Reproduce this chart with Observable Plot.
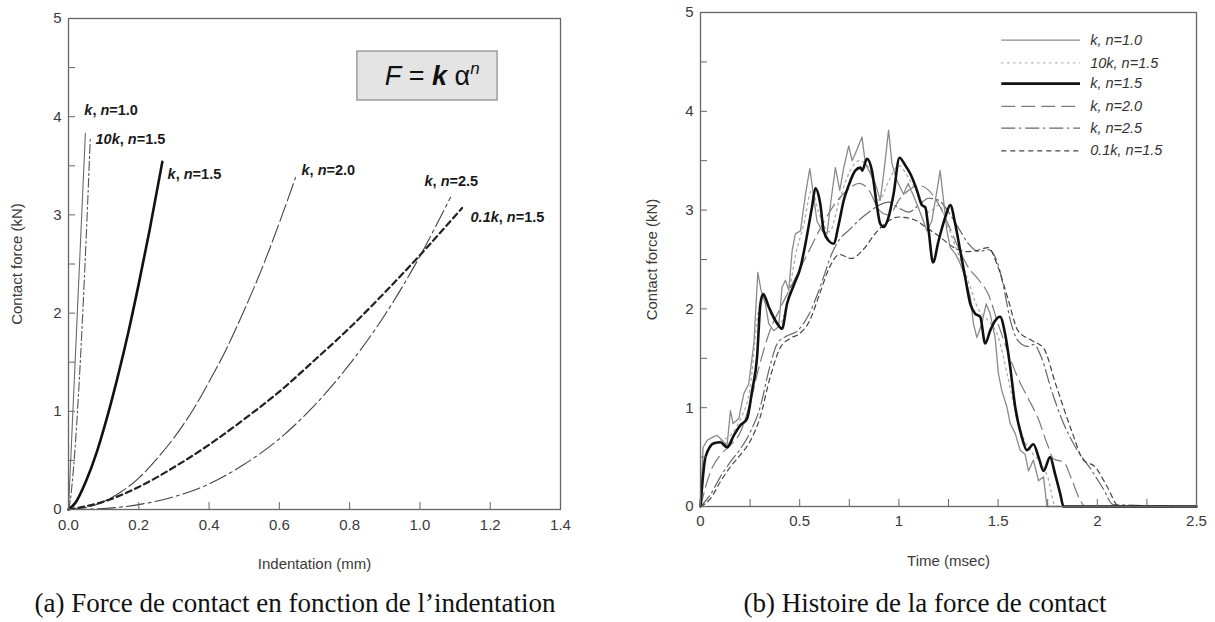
<!DOCTYPE html>
<html>
<head>
<meta charset="utf-8">
<script src="https://cdn.jsdelivr.net/npm/d3@7"></script>
<script src="https://cdn.jsdelivr.net/npm/@observablehq/plot@0.6"></script>
<style>
  html, body { margin: 0; padding: 0; background: #fff; }
  body { width: 1215px; height: 622px; position: relative; overflow: hidden; font-family: "Liberation Sans", Arial, sans-serif; }
  #left { position: absolute; left: 0; top: 0; }
  #right { position: absolute; left: 600px; top: 0; }
  .cap { position: absolute; top: 588px; font-family: "Liberation Serif", "Times New Roman", serif; font-size: 27px; line-height: 31px; color: #111; white-space: nowrap; transform: translateX(-50%); }
</style>
</head>
<body>
<div id="left"></div>
<div id="right"></div>
<div class="cap" style="left:295px">(a) Force de contact en fonction de l’indentation</div>
<div class="cap" style="left:925px">(b) Histoire de la force de contact</div>
<script>
// ---------------- Data: (a) contact force vs indentation ----------------
const seriesNames = ["k, n=1.0", "10k, n=1.5", "k, n=1.5", "k, n=2.0", "k, n=2.5", "0.1k, n=1.5"];

const ind_k_n10 = [0, 0.048];
const F_k_n10   = [0, 3.83];
const ind_10k_n15 = [0, 0.005, 0.01, 0.02, 0.03, 0.04, 0.05, 0.062];
const F_10k_n15   = [0, 0.09, 0.25, 0.69, 1.27, 1.96, 2.74, 3.78];
const ind_k_n15 = [0, 0.02, 0.05, 0.08, 0.11, 0.14, 0.17, 0.2, 0.23, 0.267];
const F_k_n15   = [0, 0.07, 0.29, 0.58, 0.94, 1.35, 1.80, 2.30, 2.83, 3.54];
const ind_k_n20 = [0, 0.05, 0.1, 0.15, 0.2, 0.25, 0.3, 0.35, 0.4, 0.45, 0.5, 0.55, 0.6, 0.646];
const F_k_n20   = [0, 0.02, 0.08, 0.18, 0.32, 0.51, 0.73, 0.99, 1.30, 1.64, 2.03, 2.45, 2.92, 3.38];
const ind_k_n25 = [0, 0.1, 0.2, 0.3, 0.4, 0.5, 0.6, 0.7, 0.8, 0.9, 1.0, 1.087];
const F_k_n25   = [0, 0.01, 0.05, 0.13, 0.26, 0.46, 0.72, 1.06, 1.48, 1.98, 2.58, 3.18];
const ind_01k_n15 = [0, 0.1, 0.2, 0.3, 0.4, 0.5, 0.6, 0.7, 0.8, 0.9, 1.0, 1.12];
const F_01k_n15   = [0, 0.08, 0.23, 0.43, 0.66, 0.92, 1.20, 1.52, 1.85, 2.21, 2.59, 3.07];

// curve-end annotations (a)
const labelX = [0.045, 0.077, 0.282, 0.663, 1.013, 1.144];
const labelY = [4.06, 3.77, 3.41, 3.45, 3.34, 2.97];

// formula box (a)
const FORMULA = "F = k αn";
const formulaBoxX = [0.822, 1.221];
const formulaBoxY = [4.165, 4.664];
const formulaPos = [1.035, 4.41];

// axis ticks (a)
const xTicksA = [0, 0.2, 0.4, 0.6, 0.8, 1.0, 1.2, 1.4];
const yTicksA = [0, 1, 2, 3, 4, 5];
const yMinorA = [0.5, 1, 1.5, 2, 2.5, 3, 3.5, 4, 4.5];
const xMinorA = [0.2, 0.4, 0.6, 0.8, 1.0, 1.2];

// ---------------- Data: (b) contact force history ----------------
const t_k_n10 = [0,0.013,0.034,0.059,0.084,0.109,0.134,0.151,0.164,0.193,0.218,0.243,0.269,0.289,0.305,0.327,0.344,0.369,0.394,0.411,0.428,0.445,0.462,0.478,0.504,0.529,0.551,0.571,0.587,0.613,0.638,0.658,0.68,0.702,0.722,0.747,0.764,0.78,0.814,0.831,0.856,0.881,0.906,0.927,0.948,0.965,0.99,1.023,1.047,1.083,1.116,1.141,1.166,1.192,1.208,1.225,1.242,1.259,1.284,1.309,1.334,1.36,1.376,1.393,1.418,1.44,1.46,1.485,1.502,1.519,1.544,1.561,1.586,1.611,1.636,1.653,1.678,1.704,1.729,1.746,2.5];
const h_k_n10 = [0,0.6,0.67,0.70,0.72,0.67,0.62,0.97,0.84,0.89,1.14,1.24,1.65,2.37,2.19,2.05,1.85,1.78,1.82,2.22,2.29,2.19,2.59,2.76,2.79,3.16,3.42,3.13,2.89,2.79,2.76,3.10,3.43,3.20,3.43,3.65,3.50,3.57,3.74,3.47,3.37,3.27,3.10,3.43,3.81,3.47,3.30,3.16,3.27,3.10,2.93,2.79,2.89,3.20,3.40,3.10,2.79,2.62,2.56,2.46,2.32,2.12,1.85,1.71,1.85,2.05,1.95,1.71,1.34,1.17,1.01,0.84,0.74,0.57,0.53,0.36,0.47,0.26,0.30,0,0];

const t_10k_n15 = [0,0.02,0.05,0.1,0.15,0.2,0.25,0.29,0.32,0.36,0.4,0.44,0.48,0.52,0.56,0.6,0.65,0.7,0.75,0.8,0.85,0.9,0.95,1.0,1.05,1.1,1.15,1.2,1.25,1.3,1.35,1.4,1.45,1.5,1.55,1.6,1.65,1.7,1.75,1.79,2.5];
const h_10k_n15 = [0,0.45,0.6,0.66,0.72,0.88,1.2,1.95,2.12,1.92,1.85,2.1,2.55,2.85,3.2,2.95,2.78,3.1,3.38,3.5,3.42,3.1,3.3,3.45,3.32,3.15,2.98,3.05,2.82,2.55,2.28,2.0,1.88,1.72,1.3,0.85,0.6,0.48,0.3,0,0];

const t_k_n15 = [0,0.025,0.067,0.10,0.134,0.168,0.2,0.235,0.26,0.285,0.302,0.316,0.344,0.378,0.411,0.436,0.47,0.504,0.529,0.562,0.579,0.604,0.621,0.646,0.671,0.697,0.722,0.747,0.78,0.806,0.815,0.839,0.864,0.89,0.906,0.923,0.948,0.973,1.003,1.03,1.057,1.091,1.116,1.133,1.15,1.172,1.2,1.234,1.259,1.284,1.309,1.334,1.36,1.385,1.41,1.435,1.46,1.485,1.51,1.535,1.561,1.586,1.62,1.645,1.678,1.704,1.729,1.762,1.787,1.813,1.83,2.5];
const h_k_n15 = [0,0.5,0.64,0.65,0.60,0.72,0.82,0.89,1.17,1.51,2.05,2.15,2.02,1.88,1.80,2.05,2.24,2.42,2.66,3.03,3.22,3.06,2.79,2.69,2.66,2.86,3.10,3.25,3.40,3.43,3.40,3.52,3.40,3.03,2.86,2.83,2.93,3.16,3.53,3.46,3.37,3.20,3.05,3.03,2.79,2.47,2.69,2.93,3.05,2.86,2.59,2.32,2.05,1.95,1.92,1.65,1.78,1.88,1.92,1.75,1.41,1.01,0.70,0.57,0.63,0.50,0.36,0.50,0.33,0.13,0,0];

const t_k_n20 = [0,0.05,0.1,0.15,0.2,0.25,0.3,0.35,0.4,0.45,0.5,0.55,0.6,0.65,0.7,0.75,0.8,0.85,0.9,0.95,1.0,1.05,1.1,1.15,1.2,1.25,1.3,1.35,1.4,1.45,1.5,1.55,1.6,1.65,1.7,1.75,1.78,1.83,1.87,1.91,1.94,2.5];
const h_k_n20 = [0,0.35,0.52,0.62,0.75,1.05,1.45,1.78,2.0,2.2,2.4,2.6,2.8,2.98,3.12,3.22,3.27,3.2,3.0,2.95,3.1,3.2,3.25,3.2,3.06,2.85,2.62,2.42,2.3,2.15,1.85,1.56,1.3,1.1,0.9,0.62,0.48,0.45,0.28,0.08,0,0];

const t_k_n25 = [0,0.05,0.1,0.15,0.2,0.25,0.3,0.35,0.39,0.44,0.49,0.54,0.59,0.62,0.66,0.7,0.75,0.8,0.85,0.9,0.95,1.0,1.05,1.1,1.15,1.2,1.25,1.3,1.35,1.4,1.45,1.5,1.53,1.56,1.6,1.65,1.68,1.72,1.77,1.83,1.89,1.97,2.03,2.08,2.5];
const h_k_n25 = [0,0.12,0.3,0.45,0.58,0.75,1.0,1.42,1.66,1.73,1.78,1.92,2.15,2.32,2.55,2.7,2.8,2.9,2.98,3.05,3.08,3.02,2.98,3.05,3.12,3.1,2.98,2.82,2.66,2.58,2.6,2.45,2.2,1.9,1.68,1.62,1.64,1.5,1.17,0.84,0.6,0.37,0.18,0.02,0];

const t_01k_n15 = [0,0.05,0.1,0.15,0.2,0.25,0.3,0.35,0.4,0.45,0.5,0.55,0.6,0.65,0.7,0.76,0.82,0.88,0.94,1.0,1.08,1.14,1.2,1.27,1.34,1.39,1.45,1.5,1.55,1.6,1.67,1.73,1.79,1.87,1.93,1.99,2.05,2.11,2.5];
const h_01k_n15 = [0,0.08,0.25,0.4,0.52,0.66,0.9,1.3,1.6,1.7,1.75,1.88,2.15,2.42,2.55,2.51,2.6,2.76,2.88,2.93,2.9,2.82,2.74,2.63,2.58,2.59,2.62,2.42,2.1,1.78,1.68,1.6,1.24,0.77,0.47,0.4,0.2,0,0];

// legend (b)
const legendY = [4.72, 4.49, 4.28, 4.05, 3.83, 3.60];
const legendX1 = 1.516, legendX2 = 1.913, legendTextX = 1.964;

// axis ticks (b)
const xTicksB = [0, 0.5, 1, 1.5, 2, 2.5];
const yTicksB = [0, 1, 2, 3, 4, 5];
const xMinorB = [0.25, 0.5, 0.75, 1, 1.25, 1.5, 1.75, 2, 2.25];
const yMinorB = [0.5, 1, 1.5, 2, 2.5, 3, 3.5, 4, 4.5];

// ---------------- helpers ----------------
const zip = (xs, ys) => xs.map((x, i) => ({x, y: ys[i]}));
const FONT = '"Liberation Sans", Arial, Helvetica, sans-serif';
const SVGNS = "http://www.w3.org/2000/svg";

// split "10k, n=1.5" into italic coefficient+k, and italic n
function italicKN(el) {
  const s = el.textContent;
  el.textContent = "";
  const m = s.match(/^([0-9.]*k)(, )(n)(.*)$/);
  const parts = m ? [[m[1], true], [m[2], false], [m[3], true], [m[4], false]] : [[s, false]];
  for (const [p, it] of parts) {
    const ts = document.createElementNS(SVGNS, "tspan");
    ts.textContent = p;
    if (it) ts.setAttribute("font-style", "italic");
    el.appendChild(ts);
  }
}

// ---------------- Chart (a) ----------------
const leftData = [
  [ind_k_n10, F_k_n10, {stroke: "#6a6a6a", strokeWidth: 1.1}],
  [ind_10k_n15, F_10k_n15, {stroke: "#555", strokeWidth: 1.1, strokeDasharray: "9,3,2,3"}],
  [ind_k_n15, F_k_n15, {stroke: "#111", strokeWidth: 2.6}],
  [ind_k_n20, F_k_n20, {stroke: "#444", strokeWidth: 1.1, strokeDasharray: "18,4"}],
  [ind_k_n25, F_k_n25, {stroke: "#444", strokeWidth: 1.1, strokeDasharray: "18,4,3,4"}],
  [ind_01k_n15, F_01k_n15, {stroke: "#222", strokeWidth: 2.2, strokeDasharray: "6,4"}]
];

const plotW_A = 600 - 68 - 40, plotH_A = 575 - 18 - 66;

const chartA = Plot.plot({
  width: 600, height: 575,
  marginLeft: 68, marginRight: 40, marginTop: 18, marginBottom: 66,
  style: {fontFamily: FONT, fontSize: "15px", color: "#3a3a3a", background: "transparent"},
  x: {domain: [0, 1.4], ticks: xTicksA, tickFormat: d3.format(".1f"), tickSize: 0, tickPadding: 10,
      label: "Indentation (mm)", labelAnchor: "center", labelOffset: 59, labelArrow: "none"},
  y: {domain: [0, 5], ticks: yTicksA, tickFormat: d3.format("d"), tickSize: 0, tickPadding: 7,
      label: "Contact force (kN)", labelAnchor: "center", labelOffset: 57, labelArrow: "none"},
  marks: [
    Plot.rect([0], {x1: () => formulaBoxX[0], x2: () => formulaBoxX[1], y1: () => formulaBoxY[0], y2: () => formulaBoxY[1], fill: "#e4e4e4", stroke: "#8a8a8a", strokeWidth: 1.2}),
    Plot.text([FORMULA], {x: () => formulaPos[0], y: () => formulaPos[1], text: d => d, fontSize: 27, fill: "#111", textAnchor: "middle"}),
    ...leftData.map(([xs, ys, st]) => Plot.line(zip(xs, ys), {x: "x", y: "y", curve: "monotone-x", ...st})),
    Plot.text(seriesNames, {x: (d, i) => labelX[i], y: (d, i) => labelY[i], text: d => d, textAnchor: "start", fontWeight: "bold", fontSize: 14.5, fill: "#1a1a1a"}),
    Plot.tickY(yMinorA, {y: d => d, insetRight: plotW_A - 7, stroke: "#666", strokeWidth: 1}),
    Plot.tickX(xMinorA, {x: d => d, insetTop: plotH_A - 7, stroke: "#666", strokeWidth: 1}),
    Plot.frame({stroke: "#666", strokeWidth: 1.3})
  ]
});
document.getElementById("left").appendChild(chartA);

// ---------------- Chart (b) ----------------
const rightData = [
  [t_k_n10, h_k_n10, {stroke: "#8a8a8a", strokeWidth: 1.3, curve: "linear"}],
  [t_10k_n15, h_10k_n15, {stroke: "#aaa", strokeWidth: 1.3, strokeDasharray: "2,4", curve: "monotone-x"}],
  [t_k_n15, h_k_n15, {stroke: "#111", strokeWidth: 2.6, curve: "monotone-x"}],
  [t_k_n20, h_k_n20, {stroke: "#7a7a7a", strokeWidth: 1.2, strokeDasharray: "14,6", curve: "monotone-x"}],
  [t_k_n25, h_k_n25, {stroke: "#666", strokeWidth: 1.2, strokeDasharray: "14,4,2,4", curve: "monotone-x"}],
  [t_01k_n15, h_01k_n15, {stroke: "#444", strokeWidth: 1.2, strokeDasharray: "5,4", curve: "monotone-x"}]
];
const drawOrder = [1, 3, 4, 5, 0, 2];

const plotW_B = 615 - 100 - 19, plotH_B = 575 - 12 - 69;

const chartB = Plot.plot({
  width: 615, height: 575,
  marginLeft: 100, marginRight: 19, marginTop: 12, marginBottom: 69,
  style: {fontFamily: FONT, fontSize: "15px", color: "#3a3a3a", background: "transparent"},
  x: {domain: [0, 2.5], ticks: xTicksB, tickFormat: d => String(d), tickSize: 0, tickPadding: 9,
      label: "Time (msec)", labelAnchor: "center", labelOffset: 59, labelArrow: "none"},
  y: {domain: [0, 5], ticks: yTicksB, tickFormat: d3.format("d"), tickSize: 0, tickPadding: 7,
      label: "Contact force (kN)", labelAnchor: "center", labelOffset: 54, labelArrow: "none"},
  marks: [
    ...drawOrder.map(i => {
      const [xs, ys, st] = rightData[i];
      return Plot.line(zip(xs, ys), {x: "x", y: "y", ...st});
    }),
    ...rightData.map(([xs, ys, st], i) => {
      const {curve, ...s} = st;
      return Plot.link([seriesNames[i]], {x1: () => legendX1, x2: () => legendX2, y1: () => legendY[i], y2: () => legendY[i], ...s});
    }),
    Plot.text(seriesNames, {x: () => legendTextX, y: (d, i) => legendY[i], text: d => d, textAnchor: "start", fontStyle: "italic", fontSize: 14.5, fill: "#333"}),
    Plot.tickY(yMinorB, {y: d => d, insetRight: plotW_B - 7, stroke: "#666", strokeWidth: 1}),
    Plot.tickX(xMinorB, {x: d => d, insetTop: plotH_B - 7, stroke: "#666", strokeWidth: 1}),
    Plot.frame({stroke: "#666", strokeWidth: 1.3})
  ]
});
document.getElementById("right").appendChild(chartB);

// ---------------- text styling (italic k / n, formula superscript) ----------------
d3.select(chartA).selectAll("text").each(function () {
  const s = this.textContent;
  if (s === FORMULA) {
    this.textContent = "";
    const parts = [["F", {"font-style": "italic"}], [" = ", {}], ["k", {"font-style": "italic", "font-weight": "bold"}], [" α", {}], ["n", {"font-style": "italic", "font-size": "17px", "dy": "-11"}]];
    for (const [txt, attrs] of parts) {
      const ts = document.createElementNS(SVGNS, "tspan");
      ts.textContent = txt;
      for (const [k, v] of Object.entries(attrs)) ts.setAttribute(k, v);
      this.appendChild(ts);
    }
  } else if (seriesNames.includes(s)) {
    italicKN(this);
  }
});
</script>
</body>
</html>
